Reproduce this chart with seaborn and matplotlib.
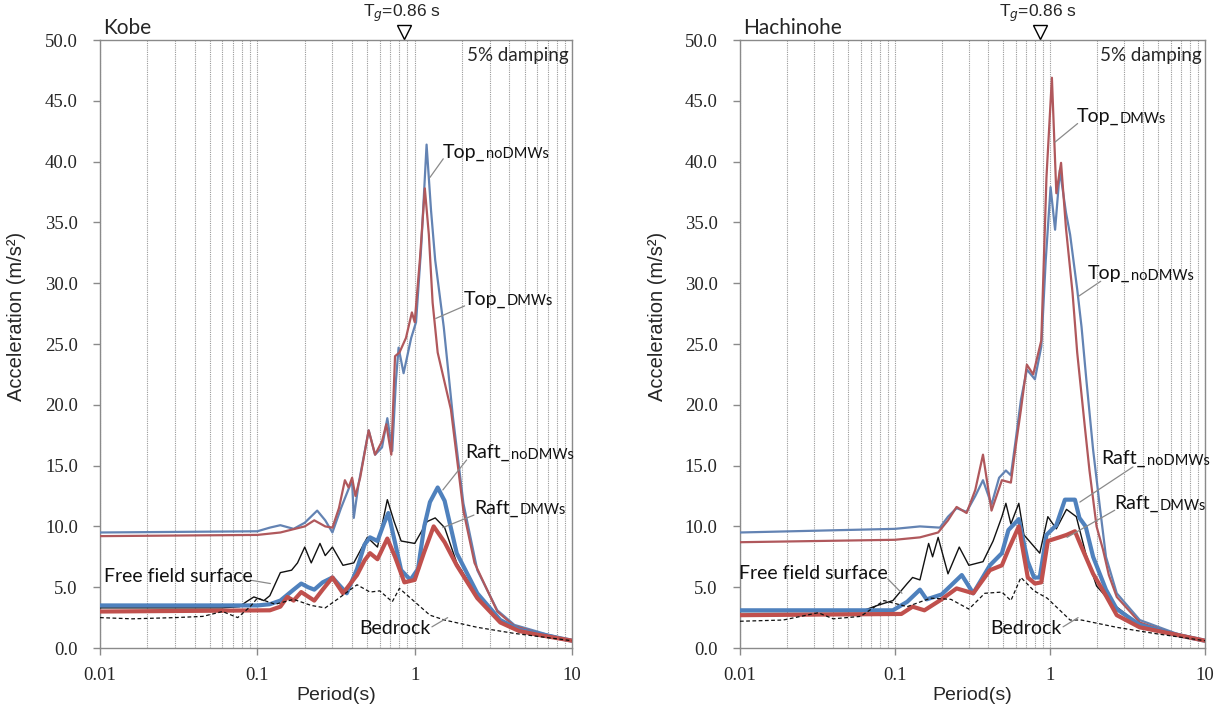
import numpy as np
import pandas as pd
import seaborn as sns
import matplotlib
matplotlib.use("Agg")
import matplotlib.pyplot as plt
from matplotlib.ticker import FixedLocator, FuncFormatter, FormatStrFormatter
import matplotlib.transforms as mtrans

# ---------------- data (period s, acceleration m/s^2) ----------------
kobe_top_nodmws_T = [0.01, 0.1, 0.12, 0.14, 0.17, 0.2, 0.24, 0.27, 0.30, 0.34, 0.37, 0.40, 0.41, 0.44, 0.51, 0.56, 0.62, 0.67, 0.72, 0.76, 0.79, 0.85, 0.95, 1.02, 1.10, 1.19, 1.27, 1.35, 1.53, 1.75, 2.04, 2.5, 3.35, 4.3, 5.5, 7, 10]
kobe_top_nodmws_A = [9.5, 9.6, 9.9, 10.1, 9.8, 10.3, 11.3, 10.5, 9.5, 11.5, 12.7, 13.8, 10.7, 13.5, 17.9, 15.9, 16.5, 18.9, 16.2, 22.0, 24.7, 22.6, 25.5, 26.8, 33.0, 41.4, 36.0, 31.9, 26.4, 19.0, 11.9, 6.4, 3.1, 1.9, 1.5, 1.1, 0.6]

kobe_top_dmws_T = [0.01, 0.1, 0.14, 0.2, 0.23, 0.27, 0.30, 0.33, 0.36, 0.38, 0.40, 0.42, 0.45, 0.51, 0.56, 0.62, 0.66, 0.71, 0.75, 0.80, 0.88, 0.96, 1.0, 1.08, 1.16, 1.23, 1.30, 1.40, 1.7, 2.04, 2.4, 3.35, 4.3, 5.5, 7, 10]
kobe_top_dmws_A = [9.2, 9.3, 9.5, 10.0, 10.5, 10.0, 9.9, 11.5, 13.8, 13.2, 14.0, 12.5, 14.0, 17.9, 15.9, 17.0, 18.4, 15.9, 24.0, 24.3, 25.5, 27.6, 26.8, 32.0, 37.8, 34.0, 28.4, 24.3, 19.6, 11.3, 7.0, 3.0, 1.8, 1.4, 1.0, 0.6]

kobe_raft_nodmws_T = [0.01, 0.1, 0.12, 0.14, 0.17, 0.19, 0.21, 0.23, 0.26, 0.30, 0.33, 0.37, 0.43, 0.48, 0.52, 0.58, 0.64, 0.68, 0.74, 0.82, 0.94, 1.05, 1.15, 1.25, 1.40, 1.55, 1.85, 2.5, 3.5, 4.6, 6, 10]
kobe_raft_nodmws_A = [3.5, 3.5, 3.6, 3.9, 4.8, 5.3, 5.0, 4.8, 5.4, 5.8, 5.2, 4.5, 6.5, 8.5, 9.1, 8.8, 10.3, 11.1, 9.0, 6.4, 5.6, 6.5, 10.0, 12.0, 13.2, 12.1, 7.8, 4.5, 2.3, 1.5, 1.2, 0.6]

kobe_raft_dmws_T = [0.01, 0.12, 0.14, 0.155, 0.17, 0.19, 0.23, 0.26, 0.30, 0.35, 0.43, 0.48, 0.52, 0.58, 0.67, 0.75, 0.86, 1.0, 1.15, 1.32, 1.55, 1.85, 2.5, 3.5, 4.6, 6, 10]
kobe_raft_dmws_A = [3.0, 3.1, 3.4, 4.2, 3.9, 4.6, 3.9, 4.8, 5.8, 4.5, 6.0, 7.2, 7.8, 7.3, 9.0, 7.5, 5.4, 5.6, 7.9, 10.0, 8.7, 6.8, 4.1, 2.1, 1.4, 1.1, 0.6]

kobe_free_T = [0.01, 0.06, 0.077, 0.085, 0.095, 0.11, 0.12, 0.14, 0.165, 0.18, 0.2, 0.22, 0.25, 0.27, 0.3, 0.35, 0.41, 0.5, 0.58, 0.67, 0.74, 0.82, 1.0, 1.2, 1.35, 1.55, 1.85, 2.5, 3.5, 4.6, 6, 10]
kobe_free_A = [3.3, 3.3, 3.4, 3.8, 4.2, 3.9, 4.3, 6.2, 6.4, 7.0, 8.3, 7.0, 8.6, 7.6, 8.3, 6.8, 7.0, 9.1, 8.3, 12.2, 10.4, 8.8, 8.6, 10.4, 10.7, 9.9, 7.0, 4.3, 2.3, 1.5, 1.1, 0.6]

kobe_bed_T = [0.01, 0.016, 0.03, 0.045, 0.06, 0.075, 0.09, 0.1, 0.13, 0.17, 0.22, 0.27, 0.33, 0.43, 0.52, 0.6, 0.72, 0.8, 1.0, 1.25, 1.55, 2.5, 4.3, 10]
kobe_bed_A = [2.5, 2.4, 2.5, 2.6, 3.0, 2.5, 3.4, 4.1, 3.6, 4.0, 3.5, 3.3, 4.1, 5.2, 4.6, 4.7, 3.8, 4.9, 3.8, 2.7, 2.3, 1.7, 1.2, 0.6]

hach_top_nodmws_T = [0.01, 0.1, 0.145, 0.195, 0.22, 0.25, 0.29, 0.33, 0.37, 0.42, 0.47, 0.52, 0.56, 0.60, 0.65, 0.71, 0.80, 0.88, 0.94, 1.01, 1.08, 1.16, 1.27, 1.35, 1.5, 1.6, 1.72, 1.9, 2.1, 2.3, 2.7, 3.8, 6.5, 10]
hach_top_nodmws_A = [9.5, 9.8, 10.0, 9.9, 10.8, 11.5, 11.2, 12.5, 13.8, 11.8, 14.0, 14.6, 14.2, 17.0, 20.4, 22.9, 22.1, 24.8, 31.9, 37.9, 34.4, 39.3, 35.8, 34.0, 29.5, 26.4, 22.0, 16.3, 11.6, 7.5, 4.5, 2.3, 1.2, 0.6]

hach_top_dmws_T = [0.01, 0.1, 0.145, 0.19, 0.22, 0.25, 0.29, 0.33, 0.37, 0.42, 0.49, 0.56, 0.60, 0.65, 0.71, 0.78, 0.88, 0.95, 1.03, 1.1, 1.18, 1.27, 1.4, 1.5, 1.68, 1.8, 2.0, 2.2, 2.4, 2.7, 3.8, 6.5, 10]
hach_top_dmws_A = [8.7, 8.9, 9.1, 9.5, 10.5, 11.6, 11.1, 13.0, 15.9, 11.3, 13.8, 13.6, 16.5, 19.6, 23.3, 22.5, 25.3, 38.7, 46.9, 37.4, 39.9, 34.5, 29.2, 24.3, 18.2, 14.6, 10.0, 8.1, 6.0, 4.2, 2.1, 1.1, 0.6]

hach_raft_nodmws_T = [0.01, 0.097, 0.12, 0.145, 0.16, 0.2, 0.27, 0.32, 0.41, 0.49, 0.54, 0.63, 0.72, 0.79, 0.86, 0.95, 1.1, 1.25, 1.45, 1.55, 1.7, 1.9, 2.3, 2.7, 3.8, 6.5, 10]
hach_raft_nodmws_A = [3.1, 3.1, 3.8, 4.8, 4.0, 4.4, 6.0, 4.5, 6.8, 7.8, 9.7, 10.6, 7.1, 5.8, 5.8, 9.3, 10.1, 12.2, 12.2, 10.7, 10.0, 7.5, 4.8, 3.2, 1.9, 1.1, 0.6]

hach_raft_dmws_T = [0.01, 0.11, 0.13, 0.155, 0.2, 0.25, 0.32, 0.41, 0.49, 0.54, 0.63, 0.72, 0.8, 0.88, 0.97, 1.15, 1.28, 1.45, 1.6, 1.9, 2.3, 2.7, 3.8, 6.5, 10]
hach_raft_dmws_A = [2.7, 2.8, 3.4, 3.1, 4.0, 4.9, 4.5, 6.4, 6.8, 8.1, 10.0, 5.8, 5.3, 5.4, 8.8, 9.1, 9.3, 9.6, 8.3, 6.1, 4.3, 2.7, 1.7, 1.1, 0.6]

hach_free_T = [0.01, 0.06, 0.077, 0.097, 0.12, 0.13, 0.145, 0.165, 0.175, 0.19, 0.22, 0.26, 0.3, 0.37, 0.43, 0.49, 0.52, 0.56, 0.63, 0.68, 0.86, 0.97, 1.1, 1.28, 1.48, 1.7, 2.0, 2.5, 3.8, 6.5, 10]
hach_free_A = [3.0, 3.0, 3.5, 3.9, 5.3, 5.8, 5.6, 8.6, 7.5, 9.1, 6.1, 8.3, 6.8, 7.1, 8.8, 10.8, 11.9, 10.2, 11.9, 9.3, 7.8, 10.8, 9.8, 11.4, 10.8, 7.8, 5.1, 3.7, 1.9, 1.1, 0.6]

hach_bed_T = [0.01, 0.019, 0.032, 0.04, 0.06, 0.085, 0.12, 0.17, 0.23, 0.3, 0.38, 0.49, 0.56, 0.65, 0.79, 0.96, 1.35, 1.6, 2.7, 4.7, 10]
hach_bed_A = [2.2, 2.3, 2.9, 2.4, 2.6, 3.9, 3.4, 4.1, 4.0, 3.2, 4.5, 4.6, 3.9, 5.8, 4.7, 4.1, 2.3, 2.3, 1.7, 1.2, 0.6]

panel_titles = ["Kobe", "Hachinohe"]
Tg = 0.86
x_tick_vals = [0.01, 0.1, 1, 10]
x_tick_labels = ["0.01", "0.1", "1", "10"]
y_ticks = [0, 5, 10, 15, 20, 25, 30, 35, 40, 45, 50]

# ---------------- styling ----------------
sns.set_theme(style="white")
plt.rcParams["font.family"] = ["Liberation Sans", "DejaVu Sans"]
plt.rcParams["mathtext.default"] = "regular"

C_BLUE_THIN = "#6383B3"
C_RED_THIN = "#B0585C"
C_BLUE = "#4F81BD"
C_RED = "#C0504D"
GRAY = "#8a8a8a"

series_style = {
    "Top_noDMWs": dict(color=C_BLUE_THIN, lw=1.6, ls="-", z=3),
    "Top_DMWs": dict(color=C_RED_THIN, lw=1.6, ls="-", z=4),
    "Free": dict(color="#111111", lw=1.0, ls="-", z=5),
    "Raft_noDMWs": dict(color=C_BLUE, lw=3.0, ls="-", z=6),
    "Raft_DMWs": dict(color=C_RED, lw=3.0, ls="-", z=7),
    "Bedrock": dict(color="#111111", lw=0.9, ls=(0, (3, 2)), z=8),
}

panels = [
    {
        "Top_noDMWs": (kobe_top_nodmws_T, kobe_top_nodmws_A),
        "Top_DMWs": (kobe_top_dmws_T, kobe_top_dmws_A),
        "Free": (kobe_free_T, kobe_free_A),
        "Raft_noDMWs": (kobe_raft_nodmws_T, kobe_raft_nodmws_A),
        "Raft_DMWs": (kobe_raft_dmws_T, kobe_raft_dmws_A),
        "Bedrock": (kobe_bed_T, kobe_bed_A),
    },
    {
        "Top_noDMWs": (hach_top_nodmws_T, hach_top_nodmws_A),
        "Top_DMWs": (hach_top_dmws_T, hach_top_dmws_A),
        "Free": (hach_free_T, hach_free_A),
        "Raft_noDMWs": (hach_raft_nodmws_T, hach_raft_nodmws_A),
        "Raft_DMWs": (hach_raft_dmws_T, hach_raft_dmws_A),
        "Bedrock": (hach_bed_T, hach_bed_A),
    },
]

# annotation: (main text, subscript, xy on curve, text xy, ha, leader start in text-bbox fraction)
annots = [
    [
        ("Top_", "noDMWs", (1.25, 38.7), (1.5, 40.8), "left", (0.02, 0.1)),
        ("Top_", "DMWs", (1.36, 27.1), (2.05, 28.7), "left", (0.02, 0.1)),
        ("Raft_", "noDMWs", (1.51, 13.0), (2.11, 16.1), "left", (0.02, 0.05)),
        ("Raft_", "DMWs", (1.51, 9.9), (2.38, 11.5), "left", (0.0, 0.1)),
        ("Free field surface", "", (0.121, 5.3), (0.093, 5.9), "right", (1.0, 0.25)),
        ("Bedrock", "", (1.62, 2.5), (1.26, 1.6), "right", (1.02, 0.6)),
    ],
    [
        ("Top_", "DMWs", (1.077, 41.6), (1.49, 43.7), "left", (0.02, 0.1)),
        ("Top_", "noDMWs", (1.52, 28.9), (1.76, 30.8), "left", (0.3, 0.05)),
        ("Raft_", "noDMWs", (1.56, 12.0), (2.16, 15.6), "left", (0.7, 0.0)),
        ("Raft_", "DMWs", (1.29, 9.1), (2.62, 11.9), "left", (0.0, 0.1)),
        ("Free field surface", "", (0.111, 4.5), (0.090, 6.1), "right", (1.0, 0.2)),
        ("Bedrock", "", (1.52, 2.5), (1.19, 1.6), "right", (1.02, 0.6)),
    ],
]

fig = plt.figure(figsize=(12.32, 7.11), dpi=100)
ax_pos = [[0.0812, 0.0886, 0.3831, 0.8551], [0.6006, 0.0886, 0.3774, 0.8551]]

ann_font = ["Lato", "DejaVu Sans"]

for i, pdata in enumerate(panels):
    ax = fig.add_axes(ax_pos[i])
    for name in ["Top_noDMWs", "Top_DMWs", "Free", "Bedrock", "Raft_noDMWs", "Raft_DMWs"]:
        T, A = pdata[name]
        st = series_style[name]
        df = pd.DataFrame({"T": T, "A": A})
        sns.lineplot(data=df, x="T", y="A", ax=ax, color=st["color"], lw=st["lw"],
                     linestyle=st["ls"], zorder=st["z"], estimator=None, sort=False)
    ax.set_xscale("log")
    ax.set_xlim(0.01, 10)
    ax.set_ylim(0, 50)

    # ticks
    ax.xaxis.set_major_locator(FixedLocator(x_tick_vals))
    ax.xaxis.set_major_formatter(FuncFormatter(lambda v, p: x_tick_labels[x_tick_vals.index(v)] if v in x_tick_vals else ""))
    minors = [m * 10.0 ** e for e in range(-2, 1) for m in range(2, 10)]
    ax.xaxis.set_minor_locator(FixedLocator(minors))
    ax.xaxis.set_minor_formatter(FuncFormatter(lambda v, p: ""))
    ax.set_yticks(y_ticks)
    ax.yaxis.set_major_formatter(FormatStrFormatter("%.1f"))
    ax.tick_params(axis="both", which="major", direction="out", length=5, width=1,
                   color=GRAY, labelsize=13.5)
    ax.tick_params(axis="x", which="minor", length=0)
    ax.tick_params(axis="x", which="major", bottom=True, top=False, pad=9)
    ax.tick_params(axis="y", left=True, right=False, pad=11)
    for lab in ax.get_xticklabels() + ax.get_yticklabels():
        lab.set_family(["Liberation Serif"])

    ax.grid(False)
    ax.grid(which="both", axis="x", linestyle=(0, (1, 1)), color="#9a9a9a", lw=0.8)
    ax.set_axisbelow(True)

    for s in ax.spines.values():
        s.set_color(GRAY)
        s.set_linewidth(1.0)
        s.set_visible(True)

    ax.set_xlabel("Period(s)", fontsize=14, labelpad=2)
    ax.set_ylabel("Acceleration (m/s²)", fontsize=14.5)
    ax.yaxis.set_label_coords(-0.156, 0.545)

    ax.text(0.007, 1.004, panel_titles[i], transform=ax.transAxes, ha="left", va="bottom",
            fontsize=15, family=ann_font)
    ax.text(0.992, 0.975, "5% damping", transform=ax.transAxes, ha="right", va="center",
            fontsize=13.5, family=ann_font)

    # Tg marker
    trans = mtrans.blended_transform_factory(ax.transData, ax.transAxes)
    ax.plot([Tg], [1.013], marker="v", ms=10, mfc="white", mec="black", mew=1.0,
            transform=trans, clip_on=False, zorder=10)
    ax.text(Tg * 0.97, 1.045, r"T$_{\mathit{g}}$=0.86 s", transform=trans, ha="center",
            va="center", fontsize=12.5)

    for main, sub, xy, xyt, ha, lead in annots[i]:
        t1 = ax.text(xyt[0], xyt[1], main, ha=ha, va="center", fontsize=14,
                     family=ann_font, color="#111111", zorder=12)
        ax.annotate("", xy=xy, xytext=lead, textcoords=t1,
                    arrowprops=dict(arrowstyle="-", color="#8a8a8a", lw=0.9,
                                    shrinkA=0, shrinkB=0), zorder=11)
        if sub:
            ax.annotate(sub, xy=(1.0, 0.0), xycoords=t1, xytext=(0.5, -0.5),
                        textcoords="offset points", ha="left", va="bottom",
                        fontsize=10.5, family=ann_font, color="#111111", zorder=12)

fig.savefig("out.png", dpi=100)
